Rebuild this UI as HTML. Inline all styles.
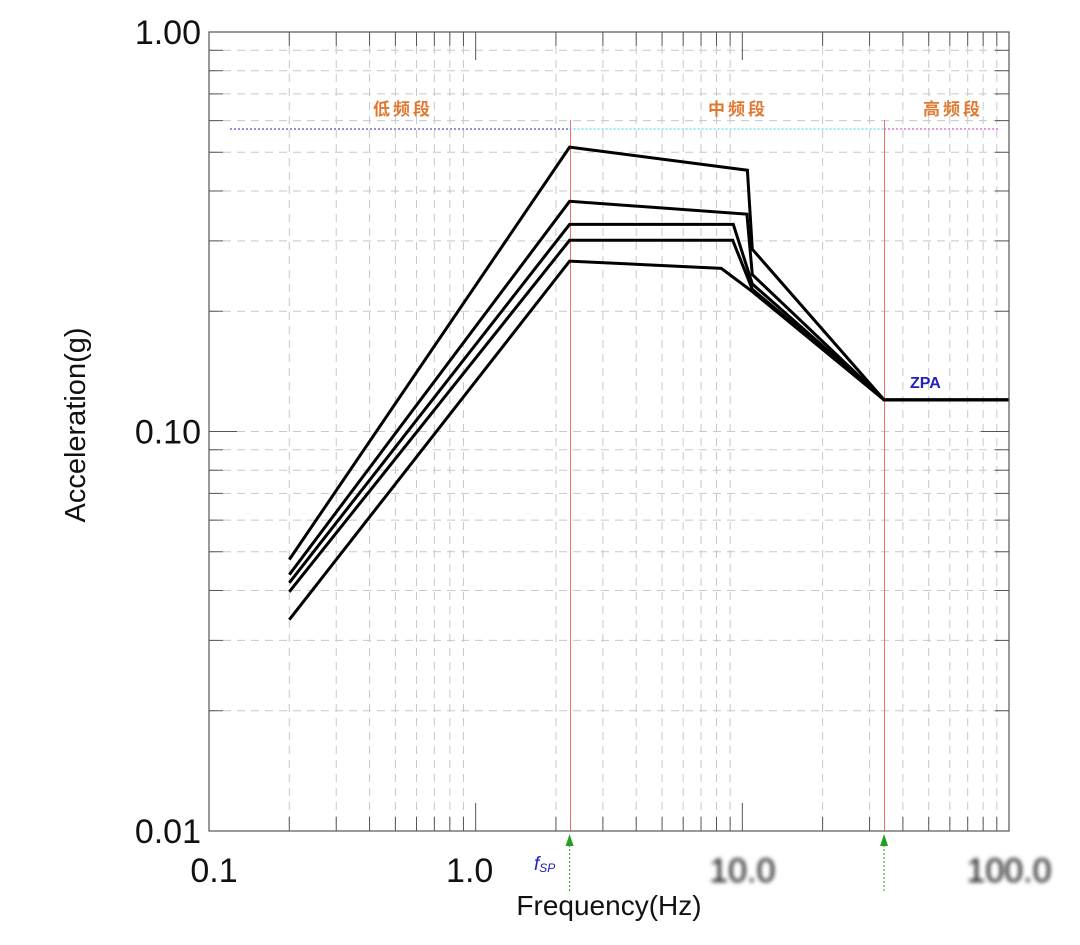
<!DOCTYPE html>
<html><head><meta charset="utf-8"><style>
body{margin:0;background:#fff;width:1080px;height:945px;overflow:hidden}
svg{display:block}
text{font-family:"Liberation Sans","Noto Sans CJK SC",sans-serif}
</style></head><body>
<svg id="chart" width="1080" height="945" xmlns="http://www.w3.org/2000/svg">
<g id="grid"></g>
<g id="bands"></g>
<g id="series"></g>
<g id="axes"></g>
</svg>
<script>
const freqs = [0.2, 2.25, 0, 0, 34, 100];
const s1 = [0.0478, 0.515, 0.451, 0.286, 0.12, 0.12];
const s2 = [0.0438, 0.377, 0.350, 0.247, 0.12, 0.12];
const s3 = [0.0418, 0.330, 0.330, 0.234, 0.12, 0.12];
const s4 = [0.0397, 0.301, 0.301, 0.227, 0.12, 0.12];
const s5 = [0.0338, 0.267, 0.256, 0.224, 0.12, 0.12];
const cornerF = [[10.45,10.9],[10.4,10.9],[9.25,10.9],[9.2,10.9],[8.34,10.9]];
const xTicks = ["0.1","1.0","10.0","100.0"];
const yTicks = ["0.01","0.10","1.00"];
const bandNames = ["低频段","中频段","高频段"];
const fsp = 2.25, fzpa = 34;

const L=209,R=1009,T=32,B=831;
const X=f=>L+(Math.log10(f)+1)/3*(R-L);
const Y=v=>B-(Math.log10(v)+2)/2*(B-T);
const NS="http://www.w3.org/2000/svg";
function mk(p,tag,a,txt){const e=document.createElementNS(NS,tag);for(const k in a)e.setAttribute(k,a[k]);if(txt!==undefined)e.textContent=txt;p.appendChild(e);return e;}
const grid=document.getElementById('grid'),axes=document.getElementById('axes'),bands=document.getElementById('bands'),ser=document.getElementById('series');

for(let d=-1;d<2;d++)for(let m=1;m<10;m++){const x=X(m*Math.pow(10,d));
 if(m>1){const g=mk(grid,'line',{x1:x,x2:x,y1:T,y2:B,stroke:'#c8c8c8','stroke-width':1,'stroke-dasharray':'8,6'});
 }
 mk(axes,'line',{x1:x,x2:x,y1:T,y2:T+(m==1?28:14),stroke:'#555'});
 mk(axes,'line',{x1:x,x2:x,y1:B,y2:B-(m==1?28:14),stroke:'#555'});}
for(let d=-2;d<0;d++)for(let m=1;m<10;m++){const y=Y(m*Math.pow(10,d));
 if(m>1||d==-1){const g=mk(grid,'line',{x1:L,x2:R,y1:y,y2:y,stroke:'#c8c8c8','stroke-width':1,'stroke-dasharray':'8,6'});
 }
 mk(axes,'line',{x1:L,x2:L+(m==1?28:14),y1:y,y2:y,stroke:'#555'});
 mk(axes,'line',{x1:R,x2:R-(m==1?28:14),y1:y,y2:y,stroke:'#555'});}
mk(axes,'rect',{x:L,y:T,width:R-L,height:B-T,fill:'none',stroke:'#555','stroke-width':1.2});

xTicks.forEach((t,i)=>{const e=mk(axes,'text',{x:X(Math.pow(10,i-1))-(i==0?-5:(i==1?6:0)),y:882,'font-size':34,'text-anchor':'middle',fill:'#111'},t);
 if(i>=2)e.setAttribute('style','filter:blur(2px)');
 });
yTicks.forEach((t,i)=>{const e=mk(axes,'text',{x:201,y:Y(Math.pow(10,i-2))+12,'font-size':34,'text-anchor':'end',fill:'#111'},t);
 });
let e=mk(axes,'text',{x:609,y:915,'font-size':28,'text-anchor':'middle',fill:'#111'},'Frequency(Hz)');

e=mk(axes,'text',{x:0,y:0,'font-size':29,'text-anchor':'middle',fill:'#111',transform:'translate(85,425) rotate(-90)'},'Acceleration(g)');


// bands
const by=129,xs=X(fsp),xz=X(fzpa);
mk(bands,'line',{x1:230,x2:xs,y1:by,y2:by,stroke:'#2020c0','stroke-dasharray':'2,2'});
mk(bands,'line',{x1:xs,x2:xz,y1:by,y2:by,stroke:'#30d0e0','stroke-dasharray':'2,2'});
mk(bands,'line',{x1:xz,x2:1000,y1:by,y2:by,stroke:'#c030c0','stroke-dasharray':'2,2'});
[[403],[738],[953]].forEach((p,i)=>{const t=mk(bands,'text',{x:p[0],y:115,'font-size':17,'font-weight':'bold','text-anchor':'middle',fill:'#e07830','font-family':'"Noto Serif CJK SC",serif','letter-spacing':'3'},bandNames[i]);
 });
[xs,xz].forEach(x=>{mk(bands,'line',{x1:Math.round(x)+0.5,x2:Math.round(x)+0.5,y1:120,y2:B,stroke:'#f07070','stroke-width':1});
 mk(bands,'line',{x1:x,x2:x,y1:845,y2:892,stroke:'#20a020','stroke-dasharray':'2,2'});
 mk(bands,'polygon',{points:`${x-4},846 ${x+4},846 ${x},834`,fill:'#20a020'});});
e=mk(bands,'text',{x:534,y:870,'font-size':19,fill:'#2020c0','font-style':'italic','font-family':'"Liberation Serif",serif'},'f');
mk(e,'tspan',{'font-size':12,dy:2},'SP');

e=mk(bands,'text',{x:910,y:388,'font-size':16,'font-weight':'bold',fill:'#2020c0'},'ZPA');


[s1,s2,s3,s4,s5].forEach((s,i)=>{const fs=freqs.slice();fs[2]=cornerF[i][0];fs[3]=cornerF[i][1];
 const pts=s.map((v,j)=>X(fs[j]).toFixed(1)+','+Y(v).toFixed(1)).join(' ');
 const p=mk(ser,'polyline',{points:pts,fill:'none',stroke:'#000','stroke-width':3,'stroke-linejoin':'miter'});
 
 });
</script>
</body></html>
